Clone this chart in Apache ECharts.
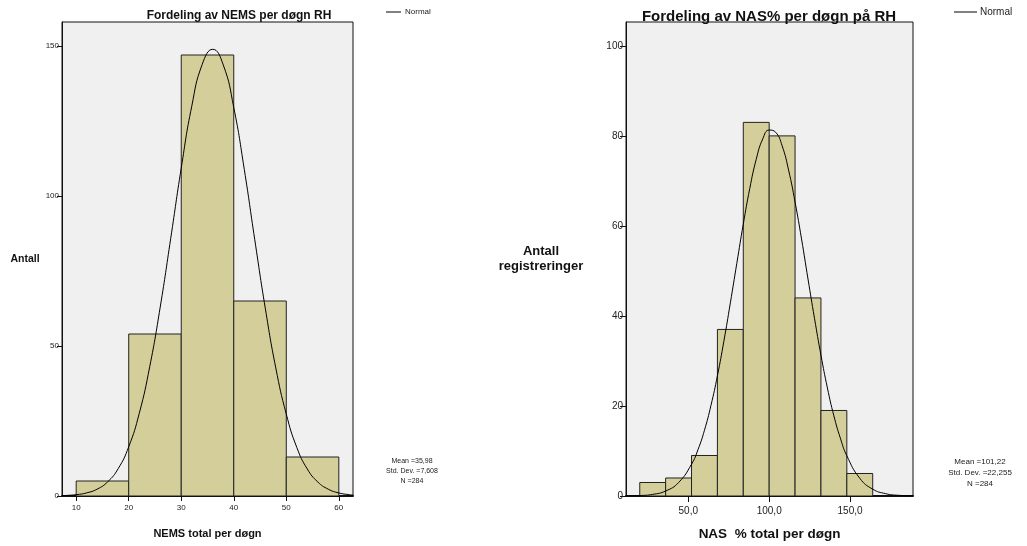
<!DOCTYPE html>
<html>
<head>
<meta charset="utf-8">
<script src="https://cdn.jsdelivr.net/npm/echarts@6/dist/echarts.min.js"></script>
<style>
  html, body { margin: 0; padding: 0; background: #fff; }
  #main { width: 1027px; height: 546px; }
</style>
</head>
<body>
<div id="main"></div>
<script>
// NEMS histogram: [bin start, bin end, count]
var nemsBins = [
    [10, 20, 5],
    [20, 30, 54],
    [30, 40, 147],
    [40, 50, 65],
    [50, 60, 13]
];
// normal curve (x, height)
var nemsNormal = [
    [7.3, 0.1], [8, 0.17], [10, 0.44], [12, 1.04], [14, 2.29], [16, 4.74], [18, 9.12],
    [20, 16.4], [22, 27.5], [24, 43.1], [26, 63.0], [28, 85.9], [30, 109.3],
    [32, 129.9], [34, 143.9], [36, 148.9], [38, 143.7], [40, 129.5], [42, 108.9],
    [44, 85.4], [46, 62.6], [48, 42.7], [50, 27.3], [52, 16.2], [54, 9.0],
    [56, 4.67], [58, 2.26], [60, 1.02], [62, 0.43], [62.7, 0.3]
];
var nemsTicksX = [10, 20, 30, 40, 50, 60];
var nemsStats = ['Mean =35,98', 'Std. Dev. =7,608', 'N =284'];

// NAS% histogram
var nasBins = [
    [20, 36, 3],
    [36, 52, 4],
    [52, 68, 9],
    [68, 84, 37],
    [84, 100, 83],
    [100, 116, 80],
    [116, 132, 44],
    [132, 148, 19],
    [148, 164, 5]
];
var nasNormal = [
    [11.5, 0.02], [20, 0.10], [28, 0.36], [36, 1.11], [44, 2.99], [52, 7.06], [56, 10.3],
    [60, 14.6], [64, 20.1], [68, 26.7], [72, 34.4], [76, 42.9], [80, 51.7], [84, 60.4],
    [88, 68.3], [92, 74.8], [96, 79.3], [100, 81.3], [104, 80.8], [108, 77.8],
    [112, 72.4], [116, 65.3], [120, 57.1], [124, 48.2], [128, 39.5], [132, 31.3],
    [136, 24.0], [140, 17.8], [144, 12.85], [148, 8.94], [156, 3.94], [164, 1.52],
    [172, 0.52], [180, 0.15], [188.9, 0.04]
];
var nasTicksX = [50, 100, 150];
var nasStats = ['Mean =101,22', 'Std. Dev. =22,255', 'N =284'];

var FONT = 'Liberation Sans, Arial, sans-serif';
var barFill = '#d3ce9a';

function histItem(params, api) {
    var p0 = api.coord([api.value(0), api.value(2)]);
    var p1 = api.coord([api.value(1), 0]);
    return {
        type: 'rect',
        shape: { x: p0[0], y: p0[1], width: p1[0] - p0[0], height: p1[1] - p0[1] },
        style: { fill: barFill, stroke: '#222', lineWidth: 1 }
    };
}

// three centred lines of summary text
function statsText(lines, cx, size) {
    return lines.map(function (t, i) {
        return {
            type: 'text', x: cx, y: 458 + i * (size + 3),
            style: { text: t, fontSize: size, fontFamily: FONT, fill: '#222',
                     textAlign: 'center', textVerticalAlign: 'top' }
        };
    });
}

var chart = echarts.init(document.getElementById('main'));
chart.setOption({
    backgroundColor: '#fff',
    animation: false,
    title: [
        { text: 'Fordeling av NEMS per døgn RH', left: 234, top: 5, textAlign: 'center',
          textStyle: { fontSize: 12, fontWeight: 'bold', fontFamily: FONT, color: '#111' } },
        { text: 'Fordeling av NAS% per døgn på RH', left: 764, top: 4, textAlign: 'center',
          textStyle: { fontSize: 15, fontWeight: 'bold', fontFamily: FONT, color: '#111' } }
    ],
    legend: [
        { data: ['Normal'], left: 386, top: 8, padding: 0, icon: 'rect', itemWidth: 15, itemHeight: 1, itemGap: 4,
          textStyle: { fontSize: 8, fontFamily: FONT, color: '#222', padding: [0, 0, 0, -1] } },
        { data: ['Normal'], left: 954, top: 7, padding: 0, icon: 'rect', itemWidth: 23, itemHeight: 1, itemGap: 4,
          textStyle: { fontSize: 10, fontFamily: FONT, color: '#222', padding: [0, 0, 0, -2] } }
    ],
    grid: [
        { left: 62, right: 674, top: 22, bottom: 50, show: true, backgroundColor: '#f0f0f0',
          borderColor: '#111', borderWidth: 1 },
        { left: 626, right: 114, top: 22, bottom: 50, show: true, backgroundColor: '#f0f0f0',
          borderColor: '#111', borderWidth: 1 }
    ],
    xAxis: [
        { gridIndex: 0, type: 'value', min: 7.3, max: 62.7, splitLine: { show: false },
          axisLine: { onZero: false, lineStyle: { color: '#111', width: 2 } },
          axisTick: { length: 5, customValues: nemsTicksX, lineStyle: { color: '#111', width: 1 } },
          axisLabel: { customValues: nemsTicksX, fontSize: 8, fontFamily: FONT, color: '#222', margin: 8 },
          name: 'NEMS total per døgn', nameLocation: 'middle', nameGap: 32,
          nameTextStyle: { fontSize: 11, fontWeight: 'bold', fontFamily: FONT, color: '#111' } },
        { gridIndex: 1, type: 'value', min: 11.5, max: 188.9, splitLine: { show: false },
          axisLine: { onZero: false, lineStyle: { color: '#111', width: 2 } },
          axisTick: { length: 6, customValues: nasTicksX, lineStyle: { color: '#111', width: 1 } },
          axisLabel: { customValues: nasTicksX, fontSize: 10, fontFamily: FONT, color: '#222', margin: 10,
              formatter: function (v) { return v.toFixed(1).replace('.', ','); } },
          name: 'NAS  % total per døgn', nameLocation: 'middle', nameGap: 31,
          nameTextStyle: { fontSize: 13.5, fontWeight: 'bold', fontFamily: FONT, color: '#111' } }
    ],
    yAxis: [
        { gridIndex: 0, type: 'value', min: 0, max: 158, interval: 50, splitLine: { show: false },
          axisLine: { show: true, lineStyle: { color: '#111', width: 1 } },
          axisTick: { show: true, length: 5, lineStyle: { color: '#111' } },
          axisLabel: { fontSize: 8, fontFamily: FONT, color: '#222', margin: 3,
              showMaxLabel: false },
          name: 'Antall', nameLocation: 'middle', nameRotate: 0, nameGap: 37,
          nameTextStyle: { fontSize: 10.5, fontWeight: 'bold', fontFamily: FONT, color: '#111', align: 'center' } },
        { gridIndex: 1, type: 'value', min: 0, max: 105.3, interval: 20, splitLine: { show: false },
          axisLine: { show: true, lineStyle: { color: '#111', width: 1 } },
          axisTick: { show: true, length: 6, lineStyle: { color: '#111' } },
          axisLabel: { fontSize: 10, fontFamily: FONT, color: '#222', margin: 3,
              showMaxLabel: false },
          name: 'Antall\nregistreringer', nameLocation: 'middle', nameRotate: 0, nameGap: 85,
          nameTextStyle: { fontSize: 13, fontWeight: 'bold', fontFamily: FONT, color: '#111',
              align: 'center', lineHeight: 15 } }
    ],
    series: [
        { type: 'custom', xAxisIndex: 0, yAxisIndex: 0, renderItem: histItem, data: nemsBins,
          clip: true, encode: { x: [0, 1], y: 2 } },
        { name: 'Normal', type: 'line', xAxisIndex: 0, yAxisIndex: 0, data: nemsNormal, smooth: true,
          showSymbol: false, clip: true, color: '#000', lineStyle: { color: '#000', width: 1 } },
        { type: 'custom', xAxisIndex: 1, yAxisIndex: 1, renderItem: histItem, data: nasBins,
          clip: true, encode: { x: [0, 1], y: 2 } },
        { name: 'Normal', type: 'line', xAxisIndex: 1, yAxisIndex: 1, data: nasNormal, smooth: true,
          showSymbol: false, clip: true, color: '#000', lineStyle: { color: '#000', width: 1 } }
    ],
    graphic: statsText(nemsStats, 412, 7).concat(statsText(nasStats, 980, 8))
});
</script>
</body>
</html>
